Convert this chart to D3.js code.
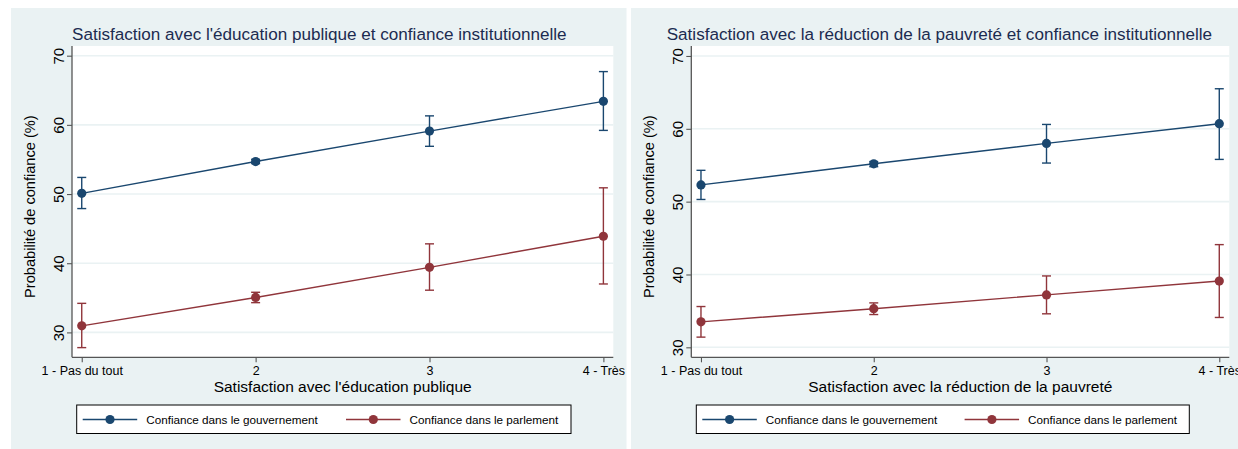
<!DOCTYPE html>
<html>
<head>
<meta charset="utf-8">
<script src="https://cdn.jsdelivr.net/npm/d3@7"></script>
<style>
  html, body { margin: 0; padding: 0; background: #ffffff; }
  svg { display: block; font-family: "Liberation Sans", Arial, Helvetica, sans-serif; }
</style>
</head>
<body>
<svg id="chart" width="1238" height="449"></svg>
<script>
// Satisfaction levels (x axis categories)
const categories = ["1 - Pas du tout", "2", "3", "4 - Très"];
const levels = [1, 2, 3, 4];
const yTicks = [30, 40, 50, 60, 70];
const seriesNames = ["Confiance dans le gouvernement", "Confiance dans le parlement"];

// Panel 1: satisfaction with public education
const eduGov   = [50.1, 54.7, 59.1, 63.4];
const eduGovLo = [47.9, 54.4, 56.9, 59.2];
const eduGovHi = [52.4, 55.0, 61.3, 67.7];
const eduParl   = [30.95, 35.05, 39.4, 43.9];
const eduParlLo = [27.8, 34.3, 36.1, 37.0];
const eduParlHi = [34.2, 35.8, 42.8, 50.9];

// Panel 2: satisfaction with poverty reduction
const povGov   = [52.3, 55.2, 58.0, 60.7];
const povGovLo = [50.3, 54.8, 55.3, 55.8];
const povGovHi = [54.3, 55.5, 60.6, 65.5];
const povParl   = [33.5, 35.3, 37.2, 39.1];
const povParlLo = [31.4, 34.5, 34.6, 34.1];
const povParlHi = [35.6, 36.1, 39.8, 44.1];

const colors = ["#1a476f", "#90353b"];
const panelBg = "#eaf2f3";
const gridColor = "#eaf2f3";

const svg = d3.select("#chart");

function drawPanel(opt) {
  const g = svg.append("g");

  // panel background
  g.append("rect")
    .attr("x", opt.bx).attr("y", opt.by)
    .attr("width", opt.bw).attr("height", opt.bh)
    .attr("fill", panelBg);

  const x = d3.scaleLinear().domain(opt.xDomain).range([opt.left, opt.right]);
  const y = d3.scaleLinear().domain(opt.yDomain).range([opt.bottom, opt.top]);

  // plot region
  g.append("rect")
    .attr("x", opt.left).attr("y", opt.top)
    .attr("width", opt.right - opt.left).attr("height", opt.bottom - opt.top)
    .attr("fill", "#ffffff");

  // horizontal grid lines
  g.append("g").selectAll("line").data(yTicks).join("line")
    .attr("x1", opt.left).attr("x2", opt.right)
    .attr("y1", d => y(d)).attr("y2", d => y(d))
    .attr("stroke", gridColor).attr("stroke-width", 1.6);

  // title
  g.append("text")
    .attr("x", opt.titleX).attr("y", 40)
    .attr("font-size", 17.1).attr("fill", "#1c2b50")
    .text(opt.title);

  // y axis
  const yAxis = g.append("g")
    .attr("transform", `translate(${opt.left},0)`)
    .call(d3.axisLeft(y).tickValues(yTicks).tickSize(5).tickPadding(5).tickFormat(d3.format("d")));
  yAxis.select(".domain").attr("stroke", "#555").attr("stroke-width", 1.3)
    .attr("d", `M0,${opt.top}V${opt.bottom}`);
  yAxis.selectAll(".tick line").attr("stroke", "#555").attr("stroke-width", 1.1);
  yAxis.selectAll(".tick text")
    .attr("font-size", 15).attr("fill", "#000")
    .attr("text-anchor", "middle")
    .attr("x", 0).attr("y", 0)
    .attr("dy", null)
    .attr("transform", "translate(-8.5,0) rotate(-90)");

  // x axis
  const xAxis = g.append("g")
    .attr("transform", `translate(0,${opt.bottom})`)
    .call(d3.axisBottom(x).tickValues(levels).tickSize(5).tickPadding(4)
      .tickFormat((d, i) => categories[i]));
  xAxis.select(".domain").attr("stroke", "#555").attr("stroke-width", 1.3)
    .attr("d", `M${opt.left},0H${opt.right}`);
  xAxis.selectAll(".tick line").attr("stroke", "#555").attr("stroke-width", 1.1);
  xAxis.selectAll(".tick text").attr("font-size", 12.5).attr("fill", "#000");

  // axis titles
  g.append("text")
    .attr("x", (opt.left + opt.right) / 2).attr("y", 392)
    .attr("text-anchor", "middle").attr("font-size", 15.5).attr("fill", "#000")
    .text(opt.xTitle);
  g.append("text")
    .attr("transform", `translate(${opt.left - 37},${(opt.top + opt.bottom) / 2 + 5}) rotate(-90)`)
    .attr("text-anchor", "middle").attr("font-size", 14.6).attr("fill", "#000")
    .text("Probabilité de confiance (%)");

  // series: lines, error bars, markers
  opt.series.forEach((s, si) => {
    const pts = levels.map((lv, i) => ({ x: lv, v: s.v[i], lo: s.lo[i], hi: s.hi[i] }));
    const line = d3.line().x(d => x(d.x)).y(d => y(d.v));
    g.append("path").datum(pts)
      .attr("d", line).attr("fill", "none")
      .attr("stroke", colors[si]).attr("stroke-width", 1.4);

    const eb = g.append("g").attr("stroke", colors[si]).attr("stroke-width", 1.4);
    eb.selectAll("line.v").data(pts).join("line").attr("class", "v")
      .attr("x1", d => x(d.x)).attr("x2", d => x(d.x))
      .attr("y1", d => y(d.lo)).attr("y2", d => y(d.hi));
    eb.selectAll("line.lo").data(pts).join("line").attr("class", "lo")
      .attr("x1", d => x(d.x) - 4.5).attr("x2", d => x(d.x) + 4.5)
      .attr("y1", d => y(d.lo)).attr("y2", d => y(d.lo));
    eb.selectAll("line.hi").data(pts).join("line").attr("class", "hi")
      .attr("x1", d => x(d.x) - 4.5).attr("x2", d => x(d.x) + 4.5)
      .attr("y1", d => y(d.hi)).attr("y2", d => y(d.hi));

    g.append("g").selectAll("circle").data(pts).join("circle")
      .attr("cx", d => x(d.x)).attr("cy", d => y(d.v))
      .attr("r", 4.6).attr("fill", colors[si]);
  });

  // legend
  const lg = g.append("g");
  lg.append("rect")
    .attr("x", opt.legX).attr("y", 405)
    .attr("width", opt.legW).attr("height", 28.5)
    .attr("fill", "#fff").attr("stroke", "#000").attr("stroke-width", 1);
  const entryOffsets = [0, opt.legStep];
  seriesNames.forEach((name, i) => {
    const ox = opt.legX + 6 + entryOffsets[i];
    lg.append("line")
      .attr("x1", ox).attr("x2", ox + 54.5)
      .attr("y1", 419.5).attr("y2", 419.5)
      .attr("stroke", colors[i]).attr("stroke-width", 1.4);
    lg.append("circle")
      .attr("cx", ox + 27.3).attr("cy", 419.5).attr("r", 4.6)
      .attr("fill", colors[i]);
    lg.append("text")
      .attr("x", ox + 63.5).attr("y", 423.8)
      .attr("font-size", 11.7).attr("fill", "#000")
      .text(name);
  });
}

drawPanel({
  bx: 11, by: 8, bw: 615.5, bh: 441,
  left: 72, right: 613.3, top: 46, bottom: 357.3,
  xDomain: [0.944, 4.057], yDomain: [26.4, 71.4],
  titleX: 72,
  title: "Satisfaction avec l'éducation publique et confiance institutionnelle",
  xTitle: "Satisfaction avec l'éducation publique",
  legX: 76.7, legW: 494.3, legStep: 263.3,
  series: [
    { v: eduGov, lo: eduGovLo, hi: eduGovHi },
    { v: eduParl, lo: eduParlLo, hi: eduParlHi }
  ]
});

drawPanel({
  bx: 631, by: 8, bw: 607, bh: 441,
  left: 691.3, right: 1229.3, top: 46, bottom: 357.3,
  xDomain: [0.944, 4.058], yDomain: [28.63, 71.37],
  titleX: 666.7,
  title: "Satisfaction avec la réduction de la pauvreté et confiance institutionnelle",
  xTitle: "Satisfaction avec la réduction de la pauvreté",
  legX: 696.3, legW: 493, legStep: 262.3,
  series: [
    { v: povGov, lo: povGovLo, hi: povGovHi },
    { v: povParl, lo: povParlLo, hi: povParlHi }
  ]
});
</script>
</body>
</html>
